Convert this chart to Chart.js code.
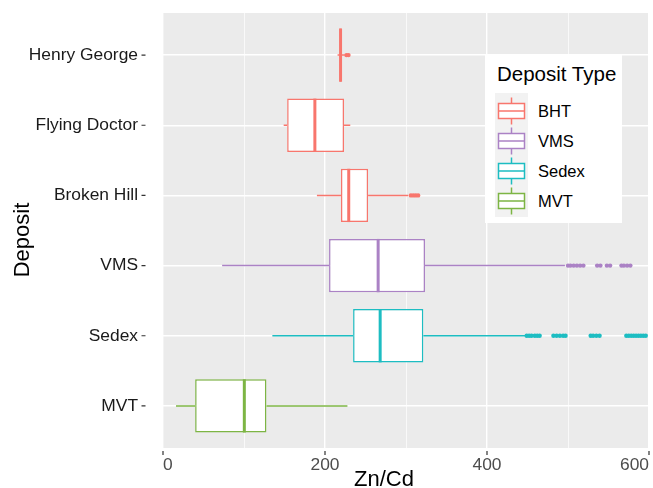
<!DOCTYPE html>
<html>
<head>
<meta charset="utf-8">
<script src="https://cdn.jsdelivr.net/npm/chart.js@4.4.1/dist/chart.umd.min.js"></script>
<style>
  html, body { margin: 0; padding: 0; background: #fff; }
  #wrap { position: relative; width: 653px; height: 488px; }
  #chart { display: block; }
  .legend {
    position: absolute; left: 485px; top: 55px; width: 137px; height: 168px;
    background: #fff; font-family: "Liberation Sans", Arial, sans-serif; color: #000;
  }
  .legend .title { position: absolute; left: 12px; top: 9px; font-size: 20.5px; line-height: 1; white-space: nowrap; }
  .legend .keys { position: absolute; left: 10px; top: 38px; width: 33px; height: 124px; background: #f2f2f2; }
  .legend .row { position: absolute; left: 0; width: 130px; height: 30px; }
  .legend .row svg { position: absolute; left: 0; top: 0; }
  .legend .row span { position: absolute; left: 43px; top: 0; line-height: 30px; font-size: 16.5px; }
</style>
</head>
<body>
<div id="wrap">
  <canvas id="chart" width="653" height="488"></canvas>
  <div class="legend" id="legend">
    <div class="title">Deposit Type</div>
    <div class="keys"></div>
  </div>
</div>
<script>
// deposits, top to bottom
const deposits = ["Henry George", "Flying Doctor", "Broken Hill", "VMS", "Sedex", "MVT"];
const depositType = ["BHT", "BHT", "BHT", "VMS", "Sedex", "MVT"];

// Zn/Cd box statistics per deposit
const lowerWhisker = [215.5, 149.0, 190.0, 73.0, 135.0, 16.0];
const q1 = [218.3, 153.3, 219.7, 205.0, 234.7, 39.7];
const median = [219.2, 187.5, 229.3, 265.6, 268.1, 100.4];
const q3 = [220.2, 223.5, 253.2, 323.5, 321.4, 127.7];
const upperWhisker = [224.5, 231.2, 302.8, 496.2, 447.5, 227.7];
const outliers = [
  [226.5, 229],
  [],
  [306, 309, 312, 315],
  [500, 503, 507, 511, 515, 519, 536, 540, 548, 552, 566, 569, 573, 577],
  [449, 452, 455, 459, 462, 465, 482, 486, 490, 494, 497, 528, 531, 535, 539,
   572, 575, 578, 581, 584, 587, 590, 593, 596],
  [],
];

const typeNames = ["BHT", "VMS", "Sedex", "MVT"];
const typeColors = { BHT: "#F8766D", VMS: "#AB82C5", Sedex: "#1DBDC2", MVT: "#7DB544" };
const xTicks = [0, 200, 400, 600];

const FONT = "'Liberation Sans', Arial, sans-serif";
Chart.defaults.font.family = FONT;
Chart.defaults.animation = false;

const colorOf = (i) => typeColors[depositType[i]];

// grey panel, whiskers, medians, tick marks and axis titles
const boxplotParts = {
  id: "boxplotParts",
  beforeDraw(chart) {
    const { ctx, chartArea: a } = chart;
    ctx.save();
    ctx.fillStyle = "#EBEBEB";
    ctx.fillRect(a.left, a.top, a.right - a.left, a.bottom - a.top);
    ctx.restore();
  },
  beforeDatasetsDraw(chart) {
    const { ctx, scales: { x, y } } = chart;
    ctx.save();
    ctx.lineWidth = 1.5;
    deposits.forEach((_, i) => {
      const py = y.getPixelForValue(i + 1);
      ctx.strokeStyle = colorOf(i);
      ctx.beginPath();
      ctx.moveTo(x.getPixelForValue(lowerWhisker[i]), py);
      ctx.lineTo(x.getPixelForValue(q1[i]), py);
      ctx.moveTo(x.getPixelForValue(q3[i]), py);
      ctx.lineTo(x.getPixelForValue(upperWhisker[i]), py);
      ctx.stroke();
    });
    ctx.restore();
  },
  afterDatasetsDraw(chart) {
    const { ctx, scales: { x } } = chart;
    const meta = chart.getDatasetMeta(0);
    ctx.save();
    ctx.lineWidth = 3;
    deposits.forEach((_, i) => {
      const bar = meta.data[i];
      const px = x.getPixelForValue(median[i]);
      ctx.strokeStyle = colorOf(i);
      ctx.beginPath();
      ctx.moveTo(px, bar.y - bar.height / 2);
      ctx.lineTo(px, bar.y + bar.height / 2);
      ctx.stroke();
    });
    ctx.restore();
  },
  afterDraw(chart) {
    const { ctx, chartArea: a, scales: { x, y } } = chart;
    ctx.save();
    ctx.strokeStyle = "#333";
    ctx.lineWidth = 1.2;
    ctx.beginPath();
    xTicks.forEach((v) => {
      const px = x.getPixelForValue(v);
      ctx.moveTo(px, a.bottom + 3);
      ctx.lineTo(px, a.bottom + 7);
    });
    deposits.forEach((_, i) => {
      const py = y.getPixelForValue(i + 1);
      ctx.moveTo(a.left - 21.5, py);
      ctx.lineTo(a.left - 17.5, py);
    });
    ctx.stroke();

    ctx.fillStyle = "#000";
    ctx.font = "22px " + FONT;
    ctx.textAlign = "center";
    ctx.textBaseline = "alphabetic";
    ctx.fillText("Zn/Cd", (a.left + a.right) / 2 - 22, 486);
    ctx.translate(29, (a.top + a.bottom) / 2 + 9.5);
    ctx.rotate(-Math.PI / 2);
    ctx.fillText("Deposit", 0, 0);
    ctx.restore();
  },
};

const outlierSets = deposits
  .map((name, i) => ({
    type: "scatter",
    label: name + " outliers",
    data: outliers[i].map((v) => ({ x: v, y: i + 1 })),
    backgroundColor: colorOf(i),
    borderWidth: 0,
    pointRadius: 2.2,
  }))
  .filter((d) => d.data.length);

new Chart(document.getElementById("chart"), {
  type: "bar",
  data: {
    datasets: [
      {
        label: "IQR",
        data: deposits.map((_, i) => ({ x: [q1[i], q3[i]], y: i + 1 })),
        backgroundColor: "#fff",
        borderColor: deposits.map((_, i) => colorOf(i)),
        borderWidth: 1.5,
        borderSkipped: false,
        categoryPercentage: 0.76,
        barPercentage: 1,
      },
      ...outlierSets,
    ],
  },
  options: {
    indexAxis: "y",
    responsive: false,
    layout: { autoPadding: false, padding: { top: 13, right: 4, left: 0, bottom: 0 } },
    plugins: { legend: { display: false }, tooltip: { enabled: false } },
    scales: {
      x: {
        type: "linear",
        min: 0,
        max: 600,
        offset: false,
        border: { display: false },
        grid: {
          color: "#fff",
          drawTicks: false,
          offset: false,
          lineWidth: (c) => (c.tick && c.tick.value % 200 === 0 ? 1.4 : 0.7),
        },
        ticks: {
          stepSize: 100,
          autoSkip: false,
          maxRotation: 0,
          align: "inner",
          padding: 7,
          color: "#4D4D4D",
          font: { size: 17.4 },
          callback: (v) => (v % 200 === 0 ? v : ""),
        },
        afterFit: (s) => { s.height = 40; s.paddingLeft = 0; s.paddingRight = 0; },
      },
      y: {
        type: "linear",
        reverse: true,
        min: 0.4,
        max: 6.6,
        offset: false,
        border: { display: false },
        grid: { color: "#fff", lineWidth: 1.4, drawTicks: false, offset: false },
        afterBuildTicks: (s) => { s.ticks = deposits.map((_, i) => ({ value: i + 1 })); },
        ticks: {
          padding: 25,
          color: "#1A1A1A",
          font: { size: 17.4 },
          callback: (v) => deposits[v - 1],
        },
        afterFit: (s) => { s.width = 163; s.paddingTop = 0; s.paddingBottom = 0; },
      },
    },
  },
  plugins: [boxplotParts],
});

// legend keys: small vertical boxplot glyphs
const legend = document.getElementById("legend");
typeNames.forEach((t, k) => {
  const c = typeColors[t];
  const row = document.createElement("div");
  row.className = "row";
  row.style.left = "10px";
  row.style.top = 40.5 + k * 30 + "px";
  row.innerHTML =
    `<svg width="33" height="30" viewBox="0 0 33 30">
      <line x1="16.5" y1="1.5" x2="16.5" y2="7.5" stroke="${c}" stroke-width="1.5"/>
      <line x1="16.5" y1="22.5" x2="16.5" y2="28.5" stroke="${c}" stroke-width="1.5"/>
      <rect x="3.5" y="7.5" width="26" height="15" fill="#fff" stroke="${c}" stroke-width="1.5"/>
      <line x1="3.5" y1="15" x2="29.5" y2="15" stroke="${c}" stroke-width="1.5"/>
    </svg><span>${t}</span>`;
  legend.appendChild(row);
});
</script>
</body>
</html>
